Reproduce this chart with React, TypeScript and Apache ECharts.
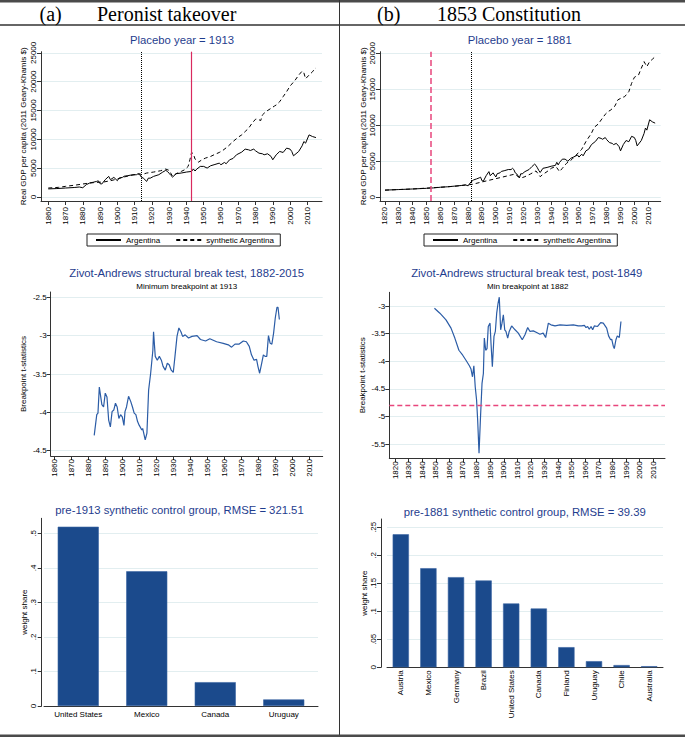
import React, { useEffect, useRef } from 'react';
import * as echarts from 'echarts';

// ---------- tick values ----------
const yearTicksA = [1860, 1870, 1880, 1890, 1900, 1910, 1920, 1930, 1940, 1950, 1960, 1970, 1980, 1990, 2000, 2010];
const yearTicksB = [1820, 1830, 1840, 1850, 1860, 1870, 1880, 1890, 1900, 1910, 1920, 1930, 1940, 1950, 1960, 1970, 1980, 1990, 2000, 2010];
const gdpTicksA = [0, 5000, 10000, 15000, 20000, 25000];
const gdpTicksB = [0, 5000, 10000, 15000, 20000];
const zaTicksA = [-4.5, -4, -3.5, -3, -2.5];
const zaTicksB = [-5.5, -5, -4.5, -4, -3.5, -3];
const shareTicksA = [0, 0.1, 0.2, 0.3, 0.4, 0.5];
const shareTicksB = [0, 0.05, 0.1, 0.15, 0.2, 0.25];

// ---------- data ----------
const argentina: [number, number][] = [
  [1820, 1000], [1830, 1080], [1840, 1160], [1850, 1250], [1855, 1310], [1860, 1400], [1865, 1460], [1870, 1550],
  [1875, 1640], [1878, 1730], [1880, 1600], [1882, 2130], [1884, 2420], [1886, 2550], [1888, 2700], [1889, 2800],
  [1890, 2300], [1891, 2250], [1893, 3000], [1895, 3570], [1896, 3000], [1898, 3400], [1900, 2820], [1901, 3280],
  [1903, 3400], [1904, 3600], [1906, 3690], [1909, 3860], [1911, 3850], [1912, 4030], [1913, 3860], [1914, 3400],
  [1915, 3280], [1917, 2700], [1918, 3280], [1919, 3250], [1921, 3570], [1924, 3860], [1926, 4260], [1928, 4610],
  [1929, 4430], [1930, 4100], [1931, 3740], [1932, 3450], [1934, 4030], [1937, 4150], [1940, 4320], [1943, 4430],
  [1944, 4860], [1945, 4500], [1946, 4840], [1948, 5300], [1950, 5300], [1952, 5010], [1954, 5410], [1956, 5590],
  [1959, 5870], [1960, 5590], [1962, 5990], [1963, 5760], [1965, 6450], [1967, 6680], [1969, 7320], [1972, 7780],
  [1974, 8300], [1976, 8180], [1977, 8060], [1979, 8300], [1980, 8010], [1982, 7600], [1984, 7490], [1985, 7320],
  [1987, 7490], [1989, 7030], [1990, 6450], [1992, 7320], [1994, 7890], [1996, 7720], [1998, 8470], [2000, 8300],
  [2001, 7890], [2002, 7140], [2005, 7890], [2007, 8870], [2008, 9620], [2009, 9330], [2011, 10770], [2013, 10480],
  [2015, 10300],
];

const synthA: [number, number][] = [
  [1860, 1550], [1866, 1670], [1870, 1840], [1876, 2070], [1880, 2250], [1884, 2420], [1888, 2530], [1892, 2590],
  [1896, 2820], [1900, 3110], [1903, 3400], [1907, 3690], [1911, 3920], [1913, 4030], [1914, 3860], [1917, 4150],
  [1921, 4320], [1925, 4550], [1928, 4840], [1930, 4610], [1932, 3570], [1934, 4030], [1937, 4430], [1939, 4720],
  [1941, 5300], [1942, 6450], [1943, 7720], [1944, 7490], [1945, 6570], [1947, 6050], [1949, 6450], [1951, 6740],
  [1954, 7030], [1956, 7320], [1959, 7720], [1961, 8060], [1964, 8760], [1967, 9620], [1970, 10370], [1972, 10770],
  [1974, 11350], [1976, 11920], [1978, 12790], [1980, 13480], [1981, 13540], [1983, 13250], [1984, 14230],
  [1986, 14800], [1989, 15380], [1991, 15780], [1992, 15960], [1994, 16530], [1996, 17400], [1998, 18260],
  [2000, 19240], [2001, 19580], [2003, 20280], [2005, 21140], [2007, 21830], [2008, 21540], [2009, 20510],
  [2011, 21140], [2013, 21720], [2014, 22120], [2015, 22400],
];

const synthB: [number, number][] = [
  [1820, 1000], [1840, 1160], [1860, 1400], [1870, 1530], [1878, 1700], [1881, 1760], [1883, 1800], [1888, 2040],
  [1893, 2270], [1898, 2500], [1903, 2730], [1908, 2960], [1911, 3100], [1914, 3240], [1916, 2870], [1919, 2730],
  [1921, 2870], [1925, 3240], [1928, 3570], [1929, 3660], [1932, 2870], [1934, 3190], [1937, 3570], [1940, 4030],
  [1943, 4260], [1944, 4120], [1946, 3570], [1948, 4030], [1951, 4720], [1955, 5280], [1958, 5880], [1962, 6670],
  [1965, 7730], [1969, 8890], [1971, 9720], [1974, 10190], [1976, 10740], [1979, 11530], [1981, 11900],
  [1983, 12130], [1986, 12690], [1988, 13520], [1991, 13840], [1993, 13980], [1996, 14680], [1998, 15830],
  [2000, 16670], [2003, 16990], [2005, 17920], [2007, 18840], [2009, 18150], [2011, 18840], [2013, 19170],
  [2015, 19540],
];

const zaA: [number, number][] = [
  [1883.5, -4.3], [1885, -4.03], [1885.7, -4.01], [1886.5, -3.67], [1888, -3.9], [1889, -3.93], [1890, -3.75],
  [1891, -3.8], [1892, -4.1], [1893, -4.19], [1894, -3.99], [1895, -3.97], [1896, -3.88], [1897, -3.93],
  [1898, -4.08], [1899, -4.03], [1900, -4.06], [1901, -4.17], [1901.6, -3.99], [1902.5, -3.93], [1903.7, -3.79],
  [1905, -3.86], [1906, -3.93], [1907, -4.01], [1908, -4.03], [1909, -4.12], [1910, -4.17], [1911.5, -4.23],
  [1912, -4.21], [1913.5, -4.36], [1914.5, -4.27], [1915.5, -3.71], [1916.7, -3.49], [1918, -3.19], [1918.4, -2.95],
  [1919.4, -3.27], [1920.6, -3.32], [1921.8, -3.27], [1923, -3.32], [1924, -3.4], [1925.3, -3.45], [1926.5, -3.36],
  [1927.6, -3.38], [1928.8, -3.45], [1930, -3.48], [1931, -3.27], [1932.2, -3.01], [1933.3, -2.9], [1934.5, -2.95],
  [1935.5, -3.01], [1937, -2.99], [1939, -3.03], [1941, -3.01], [1944, -3.0], [1946, -3.05], [1949, -3.07],
  [1951.5, -3.04], [1955.5, -3.08], [1959.4, -3.1], [1962.4, -3.12], [1964.3, -3.15], [1966.3, -3.11],
  [1968.8, -3.11], [1971.2, -3.07], [1973, -3.08], [1974.7, -3.14], [1976, -3.25], [1977.5, -3.32], [1979, -3.31],
  [1979.8, -3.4], [1980.8, -3.49], [1982, -3.36], [1983, -3.25], [1984, -3.27], [1985, -3.27], [1986, -3.0],
  [1987, -3.1], [1988, -3.11], [1989, -2.97], [1990, -2.77], [1991, -2.63], [1991.6, -2.63], [1992.4, -2.79],
];

const zaB: [number, number][] = [
  [1849, -3.04], [1853, -3.13], [1857.5, -3.25], [1861.2, -3.4], [1864, -3.58], [1867, -3.8], [1869.8, -3.89],
  [1872.2, -3.98], [1874.7, -4.08], [1875.9, -4.14], [1877, -4.28], [1878, -4.08], [1879, -4.46], [1880, -4.7],
  [1880.8, -5.06], [1881.8, -5.66], [1882.8, -5.06], [1884, -4.4], [1885, -4.22], [1885.7, -3.58], [1886.7, -3.8],
  [1887.7, -3.77], [1888.6, -3.37], [1889.9, -3.31], [1890.6, -3.67], [1891.6, -4.1], [1892.8, -3.55],
  [1893.8, -3.46], [1894.8, -3.13], [1895.8, -2.95], [1896.7, -2.84], [1897.7, -3.43], [1898.7, -3.31],
  [1899.7, -3.16], [1900.7, -3.43], [1901.6, -3.46], [1902.9, -3.58], [1904, -3.46], [1905.8, -3.36],
  [1908.3, -3.43], [1910.7, -3.49], [1913.6, -3.61], [1915.6, -3.52], [1917.6, -3.39], [1919.3, -3.46],
  [1921.7, -3.45], [1924.2, -3.48], [1926.6, -3.51], [1929, -3.49], [1930.8, -3.57], [1932.8, -3.31],
  [1934.7, -3.34], [1937.7, -3.36], [1941.4, -3.34], [1946.3, -3.35], [1951.2, -3.34], [1954.8, -3.36],
  [1957.3, -3.36], [1959.3, -3.35], [1960.5, -3.39], [1961.7, -3.37], [1962.9, -3.42], [1964.2, -3.37],
  [1965.4, -3.43], [1966.6, -3.36], [1969, -3.37], [1971.3, -3.3], [1973.2, -3.31], [1975.7, -3.4], [1977.1, -3.54],
  [1978.6, -3.61], [1979.4, -3.6], [1980.6, -3.73], [1981.3, -3.77], [1982.5, -3.61], [1983.5, -3.54],
  [1985, -3.57], [1986.2, -3.28],
];

const countriesA = ['United States', 'Mexico', 'Canada', 'Uruguay'];
const weightsA = [0.519, 0.39, 0.069, 0.019];
const countriesB = ['Austria', 'Mexico', 'Germany', 'Brazil', 'United States', 'Canada', 'Finland', 'Uruguay', 'Chile', 'Australia'];
const weightsB = [0.2375, 0.177, 0.161, 0.155, 0.114, 0.105, 0.036, 0.011, 0.004, 0.002];

const placeboYearA = 1914;
const takeoverYearA = 1943;
const placeboYearB = 1882;
const constitutionYearB = 1853;
const zaCriticalB = -4.8;

// ---------- styles ----------
const FONT = '"Liberation Sans", Arial, sans-serif';
const SERIF = '"Liberation Serif", "Times New Roman", serif';
const TITLE_COLOR = '#1f3d8e';
const GRID_COLOR = '#e2eef0';
const AXIS_COLOR = '#333333';
const ZA_COLOR = '#2b5ca6';
const BAR_COLOR = '#1b4a8c';
const RED = '#d92a5e';
const PINK = '#e8467c';

const shareFmt = (v: number) => (v === 0 ? '0' : String(+v.toFixed(3)).replace(/^0/, ''));

function yearAxis(gridIndex: number, min: number, max: number, ticks: number[], margin: number) {
  return {
    type: 'value', gridIndex, min, max,
    axisLine: { show: true, onZero: false, lineStyle: { color: AXIS_COLOR, width: 1 } },
    axisTick: { show: true, length: 4, customValues: ticks, lineStyle: { color: AXIS_COLOR } },
    axisLabel: { customValues: ticks, rotate: 90, fontSize: 8, color: '#000', fontFamily: FONT, margin, formatter: (v: number) => String(v) },
    splitLine: { show: false },
  };
}

function numAxis(gridIndex: number, min: number, max: number, ticks: number[], name: string, nameGap: number,
  rotate: number, fmt: (v: number) => string, offset = 0) {
  return {
    type: 'value', gridIndex, min, max, offset,
    name, nameLocation: 'middle', nameGap, nameRotate: 90,
    nameTextStyle: { fontSize: 8, color: '#000', fontFamily: FONT },
    axisLine: { show: true, onZero: false, lineStyle: { color: AXIS_COLOR, width: 1 } },
    axisTick: { show: true, length: 4, customValues: ticks, lineStyle: { color: AXIS_COLOR } },
    axisLabel: { customValues: ticks, rotate, fontSize: 8, color: '#000', fontFamily: FONT, margin: 4, formatter: fmt },
    splitLine: { show: true, lineStyle: { color: GRID_COLOR, width: 1 } },
  };
}

function catAxis(gridIndex: number, data: string[], rotate: number, margin: number) {
  return {
    type: 'category', gridIndex, data,
    axisLine: { show: true, onZero: false, lineStyle: { color: AXIS_COLOR, width: 1 } },
    axisTick: { show: false },
    axisLabel: { rotate, fontSize: 8, color: '#000', fontFamily: FONT, margin, interval: 0 },
    splitLine: { show: false },
  };
}

const vLine = (x: number, color: string, type: string, width: number) => ({
  xAxis: x, lineStyle: { color, type, width },
});

function markLines(data: any[]) {
  return {
    silent: true, symbol: ['none', 'none'], label: { show: false }, emphasis: { disabled: true },
    data,
  };
}

function title(text: string, x: number, y: number, size: number, color: string) {
  return {
    type: 'text', x, y, silent: true,
    style: {
      text, fill: color, fontSize: size, fontFamily: FONT,
      align: 'center', verticalAlign: 'middle', textAlign: 'center', textVerticalAlign: 'middle',
    },
  };
}

function header(text: string, x: number) {
  return {
    type: 'text', x, y: 14, silent: true,
    style: {
      text, fill: '#000', fontSize: 20, fontFamily: SERIF,
      align: 'left', verticalAlign: 'middle', textAlign: 'left', textVerticalAlign: 'middle',
    },
  };
}

function legend(left: number) {
  return {
    left, top: 234, orient: 'horizontal',
    data: ['Argentina', 'synthetic Argentina'],
    itemWidth: 25, itemHeight: 8, itemGap: 15,
    padding: [2, 6, 2, 8],
    borderColor: '#222', borderWidth: 1,
    itemStyle: { color: 'rgba(0,0,0,0)', borderColor: 'rgba(0,0,0,0)', borderWidth: 0 },
    textStyle: { fontSize: 8, color: '#000', fontFamily: FONT },
    selectedMode: false,
  };
}

const lineSeries = (name: string, data: [number, number][], idx: number, dashed: boolean, extra: any = {}) => ({
  name, type: 'line', data, xAxisIndex: idx, yAxisIndex: idx,
  symbol: 'none', showSymbol: false, silent: true,
  lineStyle: { color: '#000', width: 1, type: dashed ? [4, 3] : 'solid' },
  itemStyle: { color: '#000' },
  ...extra,
});

const option: any = {
  animation: false,
  backgroundColor: '#fff',
  textStyle: { fontFamily: FONT },
  grid: [
    { left: 41, top: 51.7, width: 281, height: 149.3 },
    { left: 380, top: 51.7, width: 280.7, height: 149.3 },
    { left: 50.7, top: 292, width: 272, height: 164 },
    { left: 389.3, top: 292.3, width: 275.7, height: 166 },
    { left: 44, top: 518.3, width: 274, height: 187.7 },
    { left: 387, top: 519, width: 276, height: 148.3 },
  ],
  xAxis: [
    yearAxis(0, 1855.8, 2018.5, yearTicksA, 6),
    yearAxis(1, 1816.4, 2019, yearTicksB, 6),
    yearAxis(2, 1857.9, 2017.9, yearTicksA, 3),
    yearAxis(3, 1815.8, 2018.6, yearTicksB, 3),
    catAxis(4, countriesA, 0, 4),
    catAxis(5, countriesB, 90, 3),
  ],
  yAxis: [
    numAxis(0, -700, 25200, gdpTicksA, 'Real GDP per capita (2011 Geary-Khamis $)', 13.5, 90, (v) => String(v)),
    numAxis(1, -510, 20220, gdpTicksB, 'Real GDP per capita (2011 Geary-Khamis $)', 12.5, 90, (v) => String(v)),
    numAxis(2, -4.569, -2.431, zaTicksA, 'Breakpoint t-statistics', 23, 0, (v) => String(v)),
    numAxis(3, -5.754, -2.752, zaTicksB, 'Breakpoint t-statistics', 23, 0, (v) => String(v)),
    numAxis(4, 0, 0.5434, shareTicksA, 'weight share', 11, 90, shareFmt, 2.3),
    numAxis(5, 0, 0.2648, shareTicksB, 'weight share', 7.5, 90, shareFmt, 6),
  ],
  legend: [legend(87), legend(424)],
  series: [
    lineSeries('Argentina', argentina.filter((d) => d[0] >= 1860), 0, false, {
      markLine: markLines([vLine(placeboYearA, '#000', 'dotted', 1), vLine(takeoverYearA, RED, 'solid', 1.2)]),
    }),
    lineSeries('synthetic Argentina', synthA, 0, true),
    lineSeries('Argentina', argentina, 1, false, {
      markLine: markLines([vLine(placeboYearB, '#000', 'dotted', 1), vLine(constitutionYearB, PINK, 'dashed', 1.5)]),
    }),
    lineSeries('synthetic Argentina', synthB, 1, true),
    {
      name: 'ZA 1882-2015', type: 'line', data: zaA, xAxisIndex: 2, yAxisIndex: 2, symbol: 'none', silent: true,
      lineStyle: { color: ZA_COLOR, width: 1.2 },
    },
    {
      name: 'ZA post-1849', type: 'line', data: zaB, xAxisIndex: 3, yAxisIndex: 3, symbol: 'none', silent: true,
      lineStyle: { color: ZA_COLOR, width: 1.2 },
      markLine: markLines([{ yAxis: zaCriticalB, lineStyle: { color: PINK, type: [5, 3], width: 1.4 } }]),
    },
    {
      name: 'weights pre-1913', type: 'bar', data: weightsA, xAxisIndex: 4, yAxisIndex: 4, barWidth: '60%', silent: true,
      itemStyle: { color: BAR_COLOR, borderColor: '#3a65a3', borderWidth: 0.6 },
    },
    {
      name: 'weights pre-1881', type: 'bar', data: weightsB, xAxisIndex: 5, yAxisIndex: 5, barWidth: '59%', silent: true,
      itemStyle: { color: BAR_COLOR, borderColor: '#3a65a3', borderWidth: 0.6 },
    },
  ],
  graphic: [
    { type: 'rect', silent: true, shape: { x: 0, y: 0, width: 685, height: 2.5 }, style: { fill: '#4a4a4a' } },
    { type: 'line', silent: true, shape: { x1: 0, y1: 25, x2: 685, y2: 25 }, style: { stroke: '#333', lineWidth: 1.5 } },
    { type: 'line', silent: true, shape: { x1: 339.5, y1: 0, x2: 339.5, y2: 735 }, style: { stroke: '#333', lineWidth: 1 } },
    { type: 'rect', silent: true, shape: { x: 0, y: 734.5, width: 685, height: 2.5 }, style: { fill: '#4a4a4a' } },
    header('(a)', 39.5),
    header('Peronist takeover', 97),
    header('(b)', 377),
    header('1853 Constitution', 437),
    title('Placebo year = 1913', 182, 40, 11.3, TITLE_COLOR),
    title('Placebo year = 1881', 519.7, 40, 11.3, TITLE_COLOR),
    title('Zivot-Andrews structural break test, 1882-2015', 186.7, 273.3, 11.3, TITLE_COLOR),
    title('Minimum breakpoint at 1913', 186.7, 286, 8, '#000'),
    title('Zivot-Andrews structural break test, post-1849', 526.7, 273.3, 11.3, TITLE_COLOR),
    title('Min breakpoint at 1882', 527.7, 286, 8, '#000'),
    title('pre-1913 synthetic control group, RMSE = 321.51', 179.5, 510, 11.3, TITLE_COLOR),
    title('pre-1881 synthetic control group, RMSE = 39.39', 524.7, 511.7, 11.3, TITLE_COLOR),
  ],
};

export default function App() {
  const ref = useRef<HTMLDivElement>(null);
  useEffect(() => {
    if (!ref.current) return;
    const chart = echarts.init(ref.current, null, { renderer: 'svg' });
    chart.setOption(option);
    return () => chart.dispose();
  }, []);
  return (
    <div
      ref={ref}
      style={{ position: 'fixed', left: 0, top: 0, width: 685, height: 737, background: '#fff' }}
    />
  );
}
